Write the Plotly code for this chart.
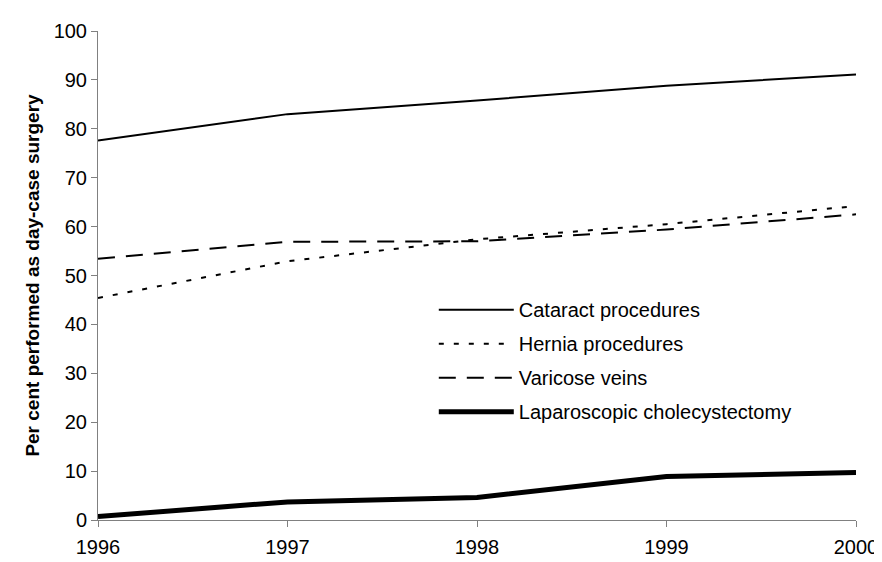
import plotly.graph_objects as go

years = [1996, 1997, 1998, 1999, 2000]
cataract = [77.6, 83.0, 85.8, 88.8, 91.1]
hernia = [45.4, 52.9, 57.4, 60.5, 64.2]
varicose = [53.4, 56.9, 57.0, 59.4, 62.5]
laparoscopic = [0.7, 3.7, 4.6, 8.9, 9.7]

series = [
    ("Cataract procedures", cataract, 2, "solid"),
    ("Hernia procedures", hernia, 2, "5px,10px"),
    ("Varicose veins", varicose, 2, "17px,11px"),
    ("Laparoscopic cholecystectomy", laparoscopic, 5, "solid"),
]

fig = go.Figure()
for i, (name, vals, w, dash) in enumerate(series):
    fig.add_trace(go.Scatter(x=years, y=vals, name=name, mode="lines",
                             legendgroup=str(i), cliponaxis=False,
                             line=dict(color="black", width=w, dash=dash)))

fig.update_layout(
    width=882, height=562,
    margin=dict(l=90, r=24, t=23, b=40),
    paper_bgcolor="white", plot_bgcolor="white",
    font=dict(family="Liberation Sans, Arial", size=20, color="black"),
    showlegend=True,
    legend=dict(x=0.443, y=0.47, xanchor="left", yanchor="top",
                bgcolor="rgba(0,0,0,0)", tracegroupgap=5, itemwidth=75,
                font=dict(size=20)),
)
fig.update_xaxes(range=[1996, 2000], tickvals=years, showgrid=False,
                 showline=True, linecolor="#808080", linewidth=1,
                 ticks="outside", ticklen=6, tickcolor="#808080", zeroline=False,
                 ticklabelstandoff=3)
fig.update_yaxes(range=[0, 100], dtick=10, showgrid=False,
                 showline=True, linecolor="#808080", linewidth=1,
                 ticks="outside", ticklen=6, tickcolor="#808080", zeroline=False,
                 title=dict(text="<b>Per cent performed as day-case surgery</b>",
                            standoff=8, font=dict(size=19)))

fig.write_html("out.html")
